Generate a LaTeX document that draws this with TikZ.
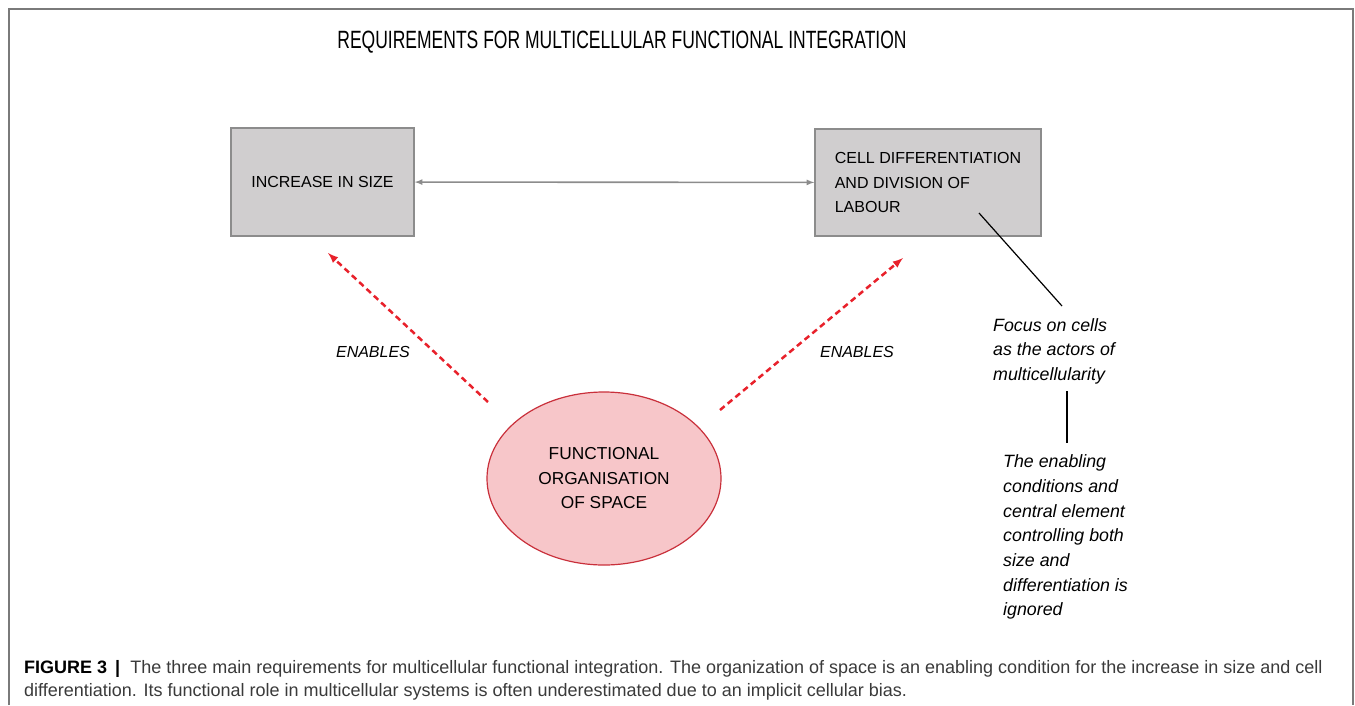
\documentclass[tikz,border=0pt]{standalone}
\usepackage{fontspec}
\setmainfont{Liberation Sans}
\newfontfamily\titlefont[FakeStretch=0.7]{Liberation Sans}
\usetikzlibrary{arrows}
\usetikzlibrary{shapes.geometric}
\definecolor{boxgray}{HTML}{D0CECF}
\definecolor{edgegray}{HTML}{8C8C8C}
\definecolor{spacepink}{HTML}{F7C6C9}
\definecolor{spacered}{HTML}{C9303B}
\definecolor{enablered}{HTML}{E8212B}
\definecolor{framegray}{HTML}{7A7A7A}
\definecolor{captext}{HTML}{3A3A3A}
\tikzset{reqbox/.style = {draw = edgegray, fill = boxgray, line width = 1.5, inner sep = 0, font = \fontsize{16}{24.5}\selectfont}}
\tikzset{enable/.style = {->, >=latex, enablered, line width = 2.5, dash pattern = on 6pt off 4pt}}
\tikzset{note/.style = {align = left, inner sep = 0, anchor = north west, font = \itshape\fontsize{17.8}{24.7}\selectfont}}

\begin{document}
\begin{tikzpicture}[x=1pt, y=-1pt]
    \useasboundingbox (0, 0) rectangle (1355, 705);
    \draw [framegray, line width=1.3] (9, 705) -- (9, 9) -- (1353, 9) -- (1353, 705);

    \node [anchor=base, font=\titlefont\fontsize{25}{30}\selectfont] (title) at (622, 48) {REQUIREMENTS FOR MULTICELLULAR FUNCTIONAL INTEGRATION};

    \node [reqbox, minimum width=183, minimum height=108] (size) at (322.5, 182) {INCREASE IN SIZE};
    \node [reqbox, minimum width=226, minimum height=107, align=left] (diff) at (928, 182.5) {CELL DIFFERENTIATION\\AND DIVISION OF\\LABOUR};
    \node [ellipse, draw=spacered, fill=spacepink, line width=1.2, minimum width=234, minimum height=173, inner sep=0, align=center, font=\fontsize{17.3}{24.5}\selectfont] (space) at (604, 478.5) {FUNCTIONAL\\ORGANISATION\\OF SPACE};

    \draw [<->, >=latex, edgegray, line width=1.6] (size) -- (diff);

    \coordinate (sizefoot) at (328, 253);
    \coordinate (difffoot) at (903, 258);
    \coordinate (spaceleft) at (488, 402);
    \coordinate (spaceright) at (720, 410);
    \draw [enable] (spaceleft) -- (sizefoot);
    \draw [enable] (spaceright) -- (difffoot);

    \node [font=\itshape\fontsize{16}{20}\selectfont] (enleft) at (373, 352) {ENABLES};
    \node [font=\itshape\fontsize{16}{20}\selectfont] (enright) at (857, 352) {ENABLES};

    \node [note] (focus) at (993, 318) {Focus on cells\\as the actors of\\multicellularity};
    \node [note] (ignored) at (1003, 454.5) {The enabling\\conditions and\\central element\\controlling both\\size and\\differentiation is\\ignored};

    \coordinate (diffpin) at (979, 213);
    \coordinate (focuspin) at (1062, 306);
    \coordinate (focuslow) at (1067, 391);
    \coordinate (ignoredtop) at (1067, 443);
    \draw [line width=1.2] (diffpin) -- (focuspin);
    \draw [line width=1.5] (focuslow) -- (ignoredtop);

    \node [anchor=north west, inner sep=0, align=left, text=captext, font=\fontsize{18}{23}\selectfont] (caption) at (24, 660) {\textbf{\textcolor{black}{FIGURE 3 \,|}}\ \ The three main requirements for multicellular functional integration. The organization of space is an enabling condition for the increase in size and cell\\differentiation. Its functional role in multicellular systems is often underestimated due to an implicit cellular bias.};
\end{tikzpicture}
\end{document}
